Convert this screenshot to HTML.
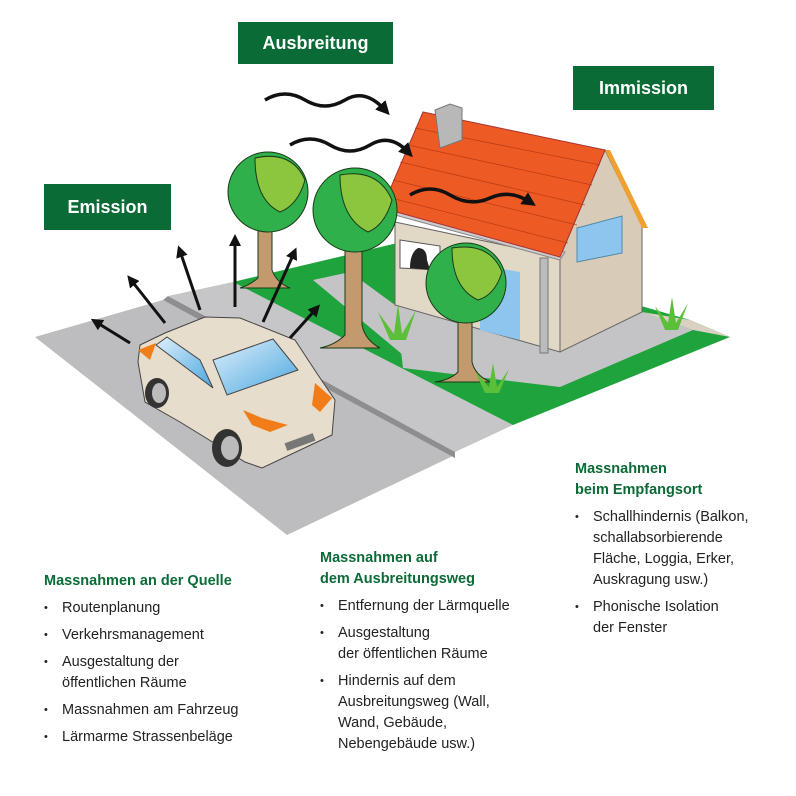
<!DOCTYPE html>
<html><head><meta charset="utf-8"><style>
html,body{margin:0;padding:0;background:#fff;}
body{width:796px;height:796px;position:relative;overflow:hidden;font-family:"Liberation Sans",sans-serif;}
.box{position:absolute;background:#0b6b37;color:#fff;font-weight:bold;font-size:18px;display:flex;align-items:center;justify-content:center;}
.t{position:absolute;font-size:14.5px;line-height:21px;color:#222;}
.t h4{margin:0 0 6px 0;color:#0b6b37;font-size:14.5px;line-height:21px;}
.t ul{margin:0;padding:0;list-style:none;}
.t li{position:relative;padding-left:18px;margin-bottom:6px;}
.t li:before{content:"•";position:absolute;left:0;font-size:11px;}
</style></head><body>
<svg width="796" height="796" style="position:absolute;left:0;top:0">
<defs>
<marker id="ah" markerWidth="4" markerHeight="4" refX="2" refY="2" orient="auto" markerUnits="strokeWidth"><path d="M0,0 L4,2 L0,4 z" fill="#111"/></marker>
<linearGradient id="gl" x1="0" y1="0" x2="1" y2="1"><stop offset="0" stop-color="#dff0fb"/><stop offset="1" stop-color="#4aa6df"/></linearGradient>
</defs>
<polygon points="35,337 163,300 455,455 287,535" fill="#bdbdc0"/>
<polygon points="163,300 168,296 455,450 455,458" fill="#8e8e92"/>
<polygon points="168,296 233,282 513,425 455,452" fill="#c6c6c9"/>
<polygon points="233,282 410,240 690,320 730,337 513,425" fill="#1fa33c"/>
<polygon points="313,280 350,272 440,338 403,355" fill="#c4c4c7"/>
<polygon points="395,300 560,352 642,312 693,330 560,387 403,368" fill="#c4c4c7"/>
<polygon points="642,312 693,330 730,337 690,320" fill="#d9d2c2"/>
<polygon points="395,222 560,257 560,352 395,305" fill="#e2d8c6" stroke="#666" stroke-width="1"/>
<polygon points="560,257 605,150 642,225 642,312 560,352" fill="#d8ccb8" stroke="#666" stroke-width="1"/>
<polygon points="577,228 622,216 622,253 577,262" fill="#8cc6ee" stroke="#5588aa"/>
<polygon points="480,265 520,272 520,340 480,330" fill="#8cc6ee"/>
<polygon points="400,240 440,246 440,270 400,268" fill="#fff" stroke="#555"/>
<path d="M410,268 q0,-15 8,-20 q9,0 9,12 l3,10 z" fill="#222"/>
<polygon points="605,150 610,150 648,228 642,228" fill="#f0a030"/>
<rect x="540" y="258" width="8" height="95" fill="#bbb" stroke="#777"/>
<polygon points="380,205 395,215 560,260 565,252 410,208" fill="#ccc" stroke="#888"/>
<polygon points="423,112 605,150 560,257 382,208" fill="#ee5a24" stroke="#a33" stroke-width="1"/>
<g stroke="#b03410" stroke-width="0.8" fill="none" opacity="0.8">
<path d="M415,128 L600,165 M408,145 L592,185 M400,162 L585,205 M393,180 L577,225 M387,197 L568,243"/>
</g>
<polygon points="435,110 450,104 462,108 462,140 440,148" fill="#b8b8b8" stroke="#777"/>
<g stroke="#1a3a1a" stroke-width="1">
<path d="M258,210 L258,278 Q250,285 240,288 L290,288 Q276,282 272,270 L272,210 z" fill="#c29a6e"/>
<circle cx="268" cy="192" r="40" fill="#2fb04a"/>
<path d="M255,158 Q292,150 305,180 Q298,205 280,212 Q255,200 255,158z" fill="#8cc63f"/>
<path d="M345,240 L345,335 Q335,345 320,348 L380,348 Q365,340 362,325 L362,240 z" fill="#c29a6e"/>
<circle cx="355" cy="210" r="42" fill="#2fb04a"/>
<path d="M340,175 Q378,168 392,200 Q385,225 368,232 Q340,218 340,175z" fill="#8cc63f"/>
<path d="M458,305 L458,372 Q450,380 435,382 L490,382 Q475,375 472,362 L472,305 z" fill="#c29a6e"/>
<circle cx="466" cy="283" r="40" fill="#2fb04a"/>
<path d="M452,248 Q490,242 502,272 Q495,295 478,300 Q452,288 452,248z" fill="#8cc63f"/>
</g>
<g fill="#5cbf3a"><path d="M390,340 l-12,-28 l16,22 l4,-30 l4,30 l14,-24 l-10,30z"/><path d="M485,393 l-10,-22 l14,16 l4,-24 l4,24 l12,-18 l-10,24z"/><path d="M665,330 l-10,-24 l13,17 l4,-26 l4,26 l12,-20 l-10,27z"/></g>
<polygon points="140,345 165,333 205,317 240,318 295,340 318,375 335,400 332,435 262,468 245,462 180,422 145,402 138,362" fill="#e7ddcc" stroke="#444" stroke-width="1"/>
<polygon points="156,345 167,337 200,360 213,388" fill="url(#gl)" stroke="#444"/>
<polygon points="213,360 273,339 298,370 227,395" fill="url(#gl)" stroke="#444"/>
<polygon points="138,350 156,343 150,360" fill="#f07d1a"/>
<polygon points="243,410 262,418 288,425 270,432 252,425" fill="#f07d1a"/>
<polygon points="315,383 332,398 320,412 312,405" fill="#f07d1a"/>
<rect x="285" y="438" width="30" height="8" fill="#777" transform="rotate(-20 300 442)"/>
<ellipse cx="157" cy="393" rx="12" ry="15" fill="#333"/><ellipse cx="159" cy="393" rx="7" ry="10" fill="#bbb"/>
<ellipse cx="227" cy="448" rx="15" ry="19" fill="#333"/><ellipse cx="230" cy="448" rx="9" ry="12" fill="#bbb"/>
<g stroke="#111" stroke-width="3" marker-end="url(#ah)">
<line x1="130" y1="343" x2="96" y2="322"/>
<line x1="165" y1="323" x2="131" y2="280"/>
<line x1="200" y1="310" x2="180" y2="251"/>
<line x1="235" y1="307" x2="235" y2="240"/>
<line x1="263" y1="322" x2="294" y2="253"/>
<line x1="290" y1="338" x2="316" y2="309"/>
</g>
<g stroke="#111" stroke-width="3.5" fill="none" marker-end="url(#ah)">
<path d="M265,100 Q285,88 305,100 T345,100 T385,110"/>
<path d="M290,145 Q310,133 330,145 T370,145 T408,152"/>
<path d="M410,195 Q430,183 450,195 T490,198 T530,202"/>
</g>
</svg>
<div class="box" style="left:238px;top:22px;width:155px;height:42px;">Ausbreitung</div>
<div class="box" style="left:573px;top:66px;width:141px;height:44px;">Immission</div>
<div class="box" style="left:44px;top:184px;width:127px;height:46px;">Emission</div>
<div class="t" style="left:44px;top:571px;"><h4>Massnahmen an der Quelle</h4><ul>
<li>Routenplanung</li><li>Verkehrsmanagement</li><li>Ausgestaltung der<br>öffentlichen Räume</li><li>Massnahmen am Fahrzeug</li><li>Lärmarme Strassenbeläge</li></ul></div>
<div class="t" style="left:320px;top:548px;"><h4>Massnahmen auf<br>dem Ausbreitungsweg</h4><ul>
<li>Entfernung der Lärmquelle</li><li>Ausgestaltung<br>der öffentlichen Räume</li><li>Hindernis auf dem<br>Ausbreitungsweg (Wall,<br>Wand, Gebäude,<br>Nebengebäude usw.)</li></ul></div>
<div class="t" style="left:575px;top:459px;"><h4>Massnahmen<br>beim Empfangsort</h4><ul>
<li>Schallhindernis (Balkon,<br>schallabsorbierende<br>Fläche, Loggia, Erker,<br>Auskragung usw.)</li><li>Phonische Isolation<br>der Fenster</li></ul></div>
</body></html>
